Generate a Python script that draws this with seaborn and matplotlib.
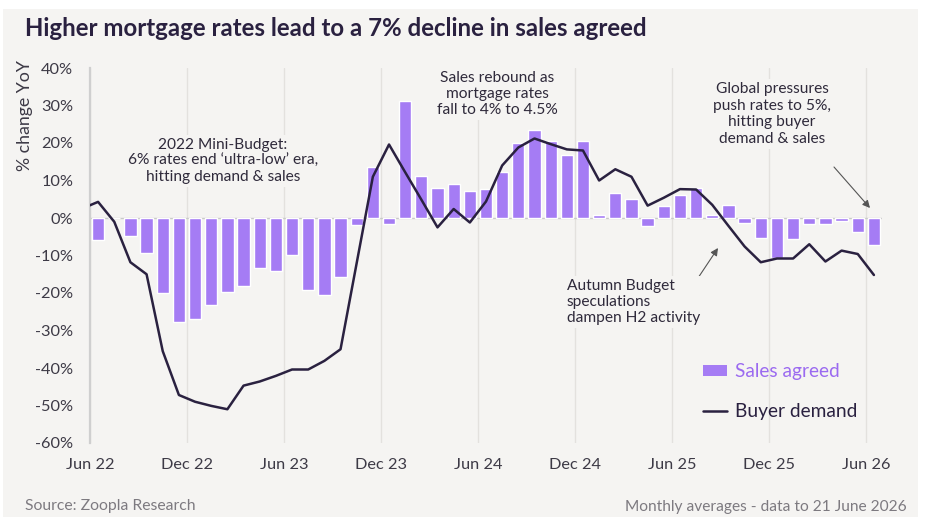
import matplotlib
matplotlib.use("Agg")
import matplotlib.pyplot as plt
from matplotlib.patches import Rectangle, Patch
from matplotlib.lines import Line2D
from matplotlib.text import Annotation
import seaborn as sns
import pandas as pd

# ---------------- data ----------------
month_index = list(range(0, 49))          # Jun 22 .. Jun 26
sales_agreed = [-5.9, 0.0, -4.7, -9.2, -20.1, -27.6, -27.0, -23.2, -19.8, -18.0,
                -13.3, -14.2, -9.9, -19.1, -20.4, -15.8, -1.9, 13.5, -1.7, 31.3,
                11.1, 8.1, 9.2, 7.2, 7.7, 12.2, 20.0, 23.6, 20.5, 16.8,
                20.6, 0.8, 6.8, 5.2, -2.2, 3.3, 6.1, 8.1, 0.8, 3.6,
                -1.4, -5.2, -10.6, -5.6, -1.6, -1.7, -0.7, -3.7, -7.1]
demand_index = list(range(-1, 49))        # May 22 .. Jun 26
buyer_demand = [2.5, 4.3, -1.0, -11.8, -15.0, -35.5, -47.2, -49.0, -50.1, -51.0,
                -44.7, -43.6, -42.1, -40.4, -40.4, -38.1, -35.0, -12.0, 11.0, 19.6,
                12.2, 4.9, -2.5, 2.4, -1.2, 4.4, 14.0, 18.8, 21.2, 19.7,
                18.3, 18.0, 10.0, 13.0, 11.0, 3.3, 5.4, 7.7, 7.6, 3.5,
                -2.1, -7.6, -11.8, -10.8, -10.8, -7.0, -11.6, -8.7, -9.6, -15.2]
tick_labels = ["Jun 22", "Dec 22", "Jun 23", "Dec 23", "Jun 24",
               "Dec 24", "Jun 25", "Dec 25", "Jun 26"]
y_ticks = list(range(-60, 41, 10))

df_sales = pd.DataFrame({"idx": month_index, "sales": sales_agreed})
df_demand = pd.DataFrame({"idx": demand_index, "demand": buyer_demand})

# ---------------- style ----------------
sns.set_theme(style="white")
FONT = ["Lato", "DejaVu Sans"]
plt.rcParams["font.family"] = FONT

BG = "#F5F4F2"
PURPLE = "#A57CF4"
LEG_PURPLE = "#9B6AF0"
DARK = "#2A2140"
TXT = "#2F2A3B"
TICK = "#3D3A46"
GREY = "#7D7A80"

W, H = 925, 517
fig = plt.figure(figsize=(W / 100, H / 100), dpi=100)
fig.patch.set_facecolor("white")
fig.add_artist(Rectangle((3 / W, 0), 915 / W, (H - 9) / H, transform=fig.transFigure,
                         facecolor=BG, edgecolor="none", zorder=-10))

def fx(px):
    return px / W

def fy(py):
    return 1 - py / H

ax = fig.add_axes([fx(90), fy(443), fx(882) - fx(90), fy(68) - fy(443)])
ax.set_facecolor("none")

sns.barplot(data=df_sales, x="idx", y="sales", native_scale=True, color=PURPLE,
            saturation=1, width=0.76, errorbar=None, ax=ax, zorder=3)
sns.lineplot(data=df_demand, x="idx", y="demand", color=DARK, linewidth=1.8,
             ax=ax, zorder=4)

ax.set_xlim(-0.5, 48.5)
ax.set_ylim(-60, 40)
ax.set_xticks([-0.5 + 6 * k for k in range(len(tick_labels))])
ax.set_xticklabels(tick_labels)
ax.set_yticks(y_ticks)
ax.set_yticklabels([f"{v}%" for v in y_ticks])
ax.set_xlabel("")
ax.set_ylabel("")
ax.tick_params(axis="both", length=0, labelsize=11.8, colors=TICK)
ax.tick_params(axis="x", pad=10.5)
ax.tick_params(axis="y", pad=12)
ax.grid(axis="x", color="#E3E1DE", linewidth=1, zorder=0)
ax.grid(axis="y", visible=False)
for s in ["top", "right", "bottom"]:
    ax.spines[s].set_visible(False)
ax.spines["left"].set_color("#CFCFCF")
ax.spines["left"].set_linewidth(1.6)
ax.axhline(0, color="#C9C9C9", linewidth=1, zorder=2)
if ax.get_legend():
    ax.get_legend().remove()

# ---------------- texts ----------------
fig.text(fx(25), fy(28), "Higher mortgage rates lead to a 7% decline in sales agreed",
         fontsize=17.3, fontweight="bold", color=DARK, va="center", ha="left")
fig.text(fx(25), fy(60), "% change YoY", rotation=90, fontsize=12.8, color=TICK,
         ha="center", va="top")
fig.text(fx(25), fy(506), "Source: Zoopla Research", fontsize=11.3, color=GREY,
         va="center", ha="left")
fig.text(fx(907), fy(507), "Monthly averages - data to 21 June 2026", fontsize=11.2,
         color=GREY, va="center", ha="right")

box = dict(facecolor=BG, edgecolor="none", pad=2)
fig.text(fx(223), fy(161), "2022 Mini-Budget:\n6% rates end \u2018ultra-low\u2019 era,\nhitting demand & sales",
         fontsize=11.2, color=TXT, ha="center", va="center", linespacing=1.2, bbox=box, zorder=5)
fig.text(fx(497), fy(94), "Sales rebound as\nmortgage rates\nfall to 4% to 4.5%",
         fontsize=11.2, color=TXT, ha="center", va="center", linespacing=1.2, bbox=box, zorder=5)
fig.text(fx(772), fy(114), "Global pressures\npush rates to 5%,\nhitting buyer\ndemand & sales",
         fontsize=11.2, color=TXT, ha="center", va="center", linespacing=1.25, bbox=box, zorder=5)
fig.text(fx(567), fy(302), "Autumn Budget\nspeculations\ndampen H2 activity",
         fontsize=11.2, color=TXT, ha="left", va="center", linespacing=1.2, bbox=box, zorder=5)

arrow = dict(arrowstyle="-|>", color="#555555", lw=0.8, mutation_scale=11,
             shrinkA=0, shrinkB=0)
fig.add_artist(Annotation("", xy=(fx(870), fy(208)), xycoords="figure fraction",
               xytext=(fx(834), fy(167)), textcoords="figure fraction", arrowprops=arrow))
fig.add_artist(Annotation("", xy=(fx(718), fy(248)), xycoords="figure fraction",
               xytext=(fx(698), fy(278)), textcoords="figure fraction", arrowprops=arrow))

# ---------------- legend ----------------
handles = [Patch(facecolor=PURPLE, edgecolor="none", label="Sales agreed"),
           Line2D([0], [0], color=DARK, lw=1.8, label="Buyer demand")]
leg = fig.legend(handles=handles, loc="upper left", bbox_to_anchor=(fx(686), fy(346)),
                 frameon=False, fontsize=13.8, handlelength=1.25, handleheight=0.5,
                 handletextpad=0.4, labelspacing=1.2,
                 labelcolor=[LEG_PURPLE, DARK])

fig.savefig("out.png", dpi=100, facecolor=fig.get_facecolor())
